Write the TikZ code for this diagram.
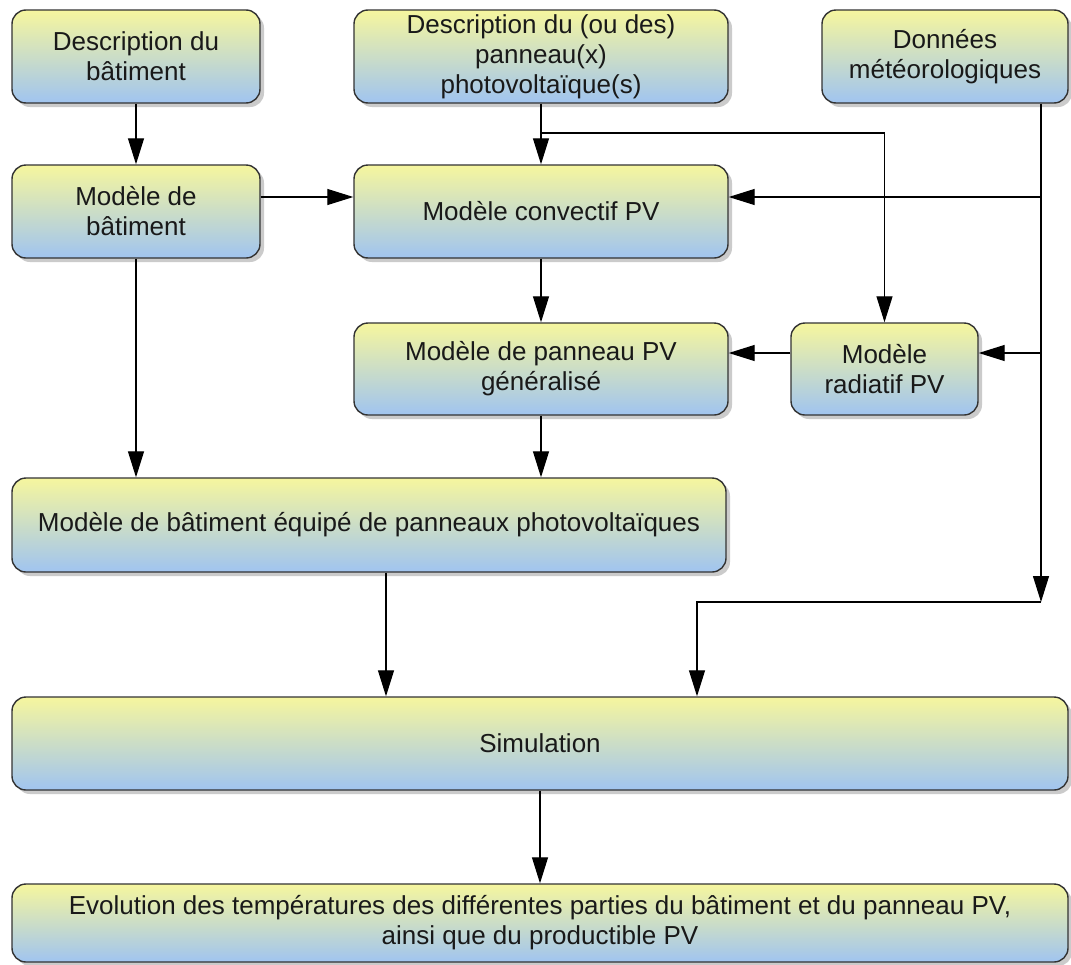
\documentclass[tikz,border=0pt]{standalone}
\usepackage{fontspec}
\setmainfont{Liberation Sans}
\usetikzlibrary{arrows.meta,shadows}
\definecolor{boxtop}{RGB}{246,246,158}
\definecolor{boxmid}{RGB}{218,234,180}
\definecolor{boxbot}{RGB}{160,196,240}
\begin{document}
\begin{tikzpicture}[x=1pt,y=-1pt,
  box/.style={draw=black!80, line width=1.4pt, rounded corners=14pt,
    top color=boxtop, middle color=boxmid, bottom color=boxbot,
    align=center, font=\fontsize{26}{30}\selectfont, text=black!90, inner sep=0pt,
    drop shadow={shadow xshift=4pt,shadow yshift=-4pt,fill=black!45,opacity=0.45}},
  arr/.style={-{Triangle[length=26pt,width=16pt]}, line width=1.2pt, black}]
\useasboundingbox (0,0) rectangle (1071,964);
\fill[white] (0,0) rectangle (1071,964);

\node[box, minimum width=248pt, minimum height=93pt] (db) at (136,56.5) {Description du\\bâtiment};
\node[box, minimum width=248pt, minimum height=93pt] (mb) at (136,211.5) {Modèle de\\bâtiment};
\node[box, minimum width=374pt, minimum height=93pt] (dp) at (541,56.5) {Description du (ou des)\\panneau(x)\\photovoltaïque(s)};
\node[box, minimum width=374pt, minimum height=93pt] (mc) at (541,211.5) {Modèle convectif PV};
\node[box, minimum width=246pt, minimum height=93pt] (dm) at (945,56.5) {Données\\météorologiques};
\node[box, minimum width=187pt, minimum height=92pt] (mr) at (884.5,369) {Modèle\\radiatif PV};
\node[box, minimum width=374pt, minimum height=92pt] (mg) at (541,369) {Modèle de panneau PV\\généralisé};
\node[box, minimum width=714pt, minimum height=94pt] (me) at (369,525) {Modèle de bâtiment équipé de panneaux photovoltaïques};
\node[box, minimum width=1056pt, minimum height=93pt] (sim) at (540,743.5) {Simulation};
\node[box, minimum width=1056pt, minimum height=78pt] (ev) at (540,923) {Evolution des températures des différentes parties du bâtiment et du panneau PV,\\ainsi que du productible PV};

\coordinate (yA) at (0,197);
\coordinate (yB) at (0,353);
\coordinate (j1) at (541,133);
\coordinate (mx) at (1041,0);
\coordinate (k1) at (1041,602);
\coordinate (k2) at (697,602);
\coordinate (xE) at (386,0);

\draw[arr] (db.south) -- (mb.north);
\draw[arr] (mb.east |- yA) -- (mc.west |- yA);
\draw[arr] (dp.south) -- (mc.north);
\draw[arr] (j1) -| (mr.north);
\draw[arr] (dm.south -| mx) -- (k1);
\draw[arr] (mx |- yA) -- (mc.east |- yA);
\draw[arr] (mx |- yB) -- (mr.east |- yB);
\draw[arr] (mr.west |- yB) -- (mg.east |- yB);
\draw[arr] (mc.south) -- (mg.north);
\draw[arr] (mb.south) -- (me.north -| mb.south);
\draw[arr] (mg.south) -- (me.north -| mg.south);
\draw[arr] (me.south -| xE) -- (sim.north -| xE);
\draw[arr] (k1) -- (k2) -- (sim.north -| k2);
\draw[arr] (sim.south) -- (ev.north);
\end{tikzpicture}
\end{document}
